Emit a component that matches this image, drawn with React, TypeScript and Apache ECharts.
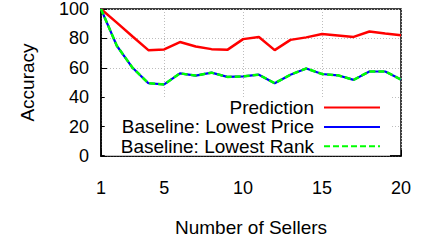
import React, { useEffect, useRef } from "react";
import * as echarts from "echarts";

const sellers = ["1","2","3","4","5","6","7","8","9","10","11","12","13","14","15","16","17","18","19","20"];
const prediction = [100, 90.7, 81.3, 72, 72.5, 77.5, 74.5, 72.7, 72.2, 79.5, 81, 72, 79, 80.7, 83, 82, 81, 84.7, 83.3, 82.2];
const lowestPrice = [100, 75, 60, 49.5, 48.7, 56.2, 54.7, 56.7, 53.8, 54.2, 55.3, 49.5, 55.3, 59.5, 55.8, 54.9, 51.8, 57.5, 57.5, 52];
const lowestRank = [100, 75, 60, 49.5, 48.7, 56.2, 54.7, 56.7, 53.8, 54.2, 55.3, 49.5, 55.3, 59.5, 55.8, 54.9, 51.8, 57.5, 57.5, 52];
const shownX = ["1", "5", "10", "15", "20"];
const seriesNames = ["Prediction", "Baseline: Lowest Price", "Baseline: Lowest Rank"];

const FONT = "Liberation Sans, Arial, Helvetica, sans-serif";

export default function App() {
  const ref = useRef<HTMLDivElement>(null);
  useEffect(() => {
    if (!ref.current) return;
    const chart = echarts.init(ref.current, null, { renderer: "svg" });
    const showIdx = (idx: number) => shownX.includes(sellers[idx]);
    chart.setOption({
      animation: false,
      backgroundColor: "#ffffff",
      textStyle: { fontFamily: FONT, color: "#000" },
      grid: {
        left: 101, right: 21, top: 7, bottom: 85,
        show: true, borderColor: "#000", borderWidth: 1.5, backgroundColor: "transparent",
      },
      legend: {
        data: seriesNames,
        orient: "vertical",
        align: "right",
        right: 32,
        top: 97,
        padding: [1, 9, 0, 16],
        backgroundColor: "#ffffff",
        itemWidth: 56,
        itemHeight: 16,
        itemGap: 0.4,
        selectedMode: false,
        itemStyle: { opacity: 0, borderWidth: 0 },
        textStyle: { fontFamily: FONT, fontSize: 19, color: "#000", lineHeight: 16, padding: [0, 5, 0, 0] },
      },
      xAxis: {
        type: "category",
        data: sellers,
        boundaryGap: false,
        name: "Number of Sellers",
        nameLocation: "middle",
        nameGap: 62,
        nameTextStyle: { fontFamily: FONT, fontSize: 19, color: "#000" },
        axisLine: { show: true, lineStyle: { color: "#000", width: 1.5 } },
        axisTick: { show: true, inside: true, length: 6, interval: (idx: number) => showIdx(idx), lineStyle: { color: "#000", width: 1 } },
        axisLabel: { interval: (idx: number) => showIdx(idx), margin: 23, fontFamily: FONT, fontSize: 18, color: "#000" },
        splitLine: { show: true, interval: (idx: number) => showIdx(idx), lineStyle: { color: "#bdbdbd", width: 1, type: [1, 2] } },
      },
      yAxis: {
        type: "value",
        min: 0, max: 100, interval: 20,
        name: "Accuracy",
        nameLocation: "middle",
        nameGap: 64,
        nameRotate: 90,
        nameTextStyle: { fontFamily: FONT, fontSize: 19, color: "#000" },
        axisLine: { show: true, lineStyle: { color: "#000", width: 1.5 } },
        axisTick: { show: true, inside: true, length: 6, lineStyle: { color: "#000", width: 1 } },
        axisLabel: { margin: 12, fontFamily: FONT, fontSize: 18, color: "#000", padding: [10, 0, 0, 0] },
        splitLine: { show: true, lineStyle: { color: "#bdbdbd", width: 1, type: [1, 2] } },
      },
      series: [
        {
          name: seriesNames[0], type: "line", data: prediction, symbol: "none",
          lineStyle: { color: "#ff0000", width: 2.5 }, itemStyle: { color: "#ff0000" },
        },
        {
          name: seriesNames[1], type: "line", data: lowestPrice, symbol: "none",
          lineStyle: { color: "#0000ff", width: 2.2 }, itemStyle: { color: "#0000ff" },
        },
        {
          name: seriesNames[2], type: "line", data: lowestRank, symbol: "none",
          lineStyle: { color: "#00ff00", width: 2.5, type: [6, 3] }, itemStyle: { color: "#00ff00" },
        },
      ],
    });
    return () => chart.dispose();
  }, []);
  return <div ref={ref} style={{ position: "fixed", left: 0, top: 0, width: 422, height: 242 }} />;
}
